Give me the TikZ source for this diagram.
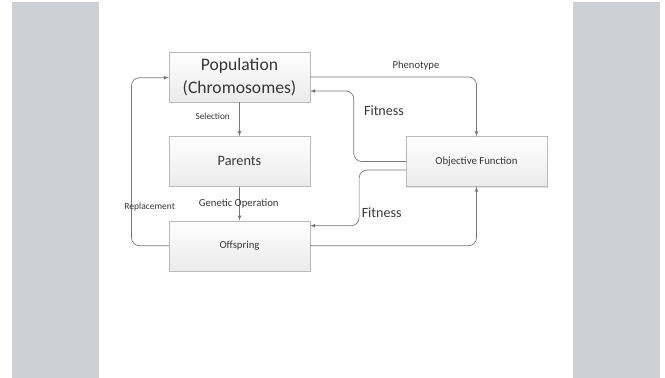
\documentclass[tikz,border=0pt]{standalone}
\usepackage{fontspec}
\setmainfont{Carlito}
\usepackage{tikz}
\usetikzlibrary{shadows}
\tikzset{>=latex}
\definecolor{pagegray}{RGB}{205,208,213}
\definecolor{linegray}{RGB}{120,120,120}
\definecolor{txtgray}{RGB}{55,55,55}
\tikzset{
  blk/.style={draw=gray!55,top color=white,bottom color=gray!16,
    drop shadow={opacity=0.2,shadow xshift=1pt,shadow yshift=-1pt},
    minimum width=141pt,minimum height=50pt,inner sep=0pt,
    text=txtgray,align=center},
  flow/.style={-latex,draw=linegray,line width=0.7pt,rounded corners=8pt},
  lbl/.style={text=txtgray,inner sep=0pt}
}
\newcommand{\fsz}[1]{\fontsize{#1}{#1}\selectfont}

\begin{document}
\begin{tikzpicture}[x=1pt,y=-1pt]
      \useasboundingbox (0,0) rectangle (665,378);
      \fill[pagegray] (12,2) rectangle (99,378);
      \fill[pagegray] (573,2) rectangle (660,378);
      % boxes
      \node[blk,font=\fontsize{17.6}{23}\selectfont] (pop) at (239.5,77) {Population\\(Chromosomes)};
      \node[blk,font=\fsz{14.3}] (par) at (239.5,161.3) {Parents};
      \node[blk,font=\fsz{10.7}] (offs) at (239.5,245.7) {Offspring};
      \node[blk,font=\fsz{10.8}] (obj) at (476.5,161.5) {Objective Function};
      % connectors
      \draw[flow] (pop) -- (par);
      \draw[flow] (par) -- (offs);
      \draw[flow] (offs.west) -- ++(-37.3,0) |- ([yshift=-0.7pt]pop.west);
      \draw[flow] (pop.east) -| (obj.north);
      \draw[flow] (obj.west) -- ++(-52,0) |- ([yshift=-14pt]pop.east);
      \draw[flow] ([yshift=-8.5pt]obj.west) -- ++(-46.7,0) |- ([yshift=20pt]offs.east);
      \draw[flow] (offs.east) -| (obj.south);
      % labels
      \node[lbl,font=\fsz{9.2}] (sel) at (212.7,116) {Selection};
      \node[lbl,font=\fsz{10.7}] (gen) at (238.7,203.3) {Genetic Operation};
      \node[lbl,font=\fsz{9.5}] (rep) at (149.7,207) {Replacement};
      \node[lbl,font=\fsz{10.6}] (phe) at (416,66) {Phenotype};
      \node[lbl,font=\fsz{14.1}] (fit1) at (384,110.7) {Fitness};
      \node[lbl,font=\fsz{14.1}] (fit2) at (381.7,212.7) {Fitness};
\end{tikzpicture}
\end{document}
